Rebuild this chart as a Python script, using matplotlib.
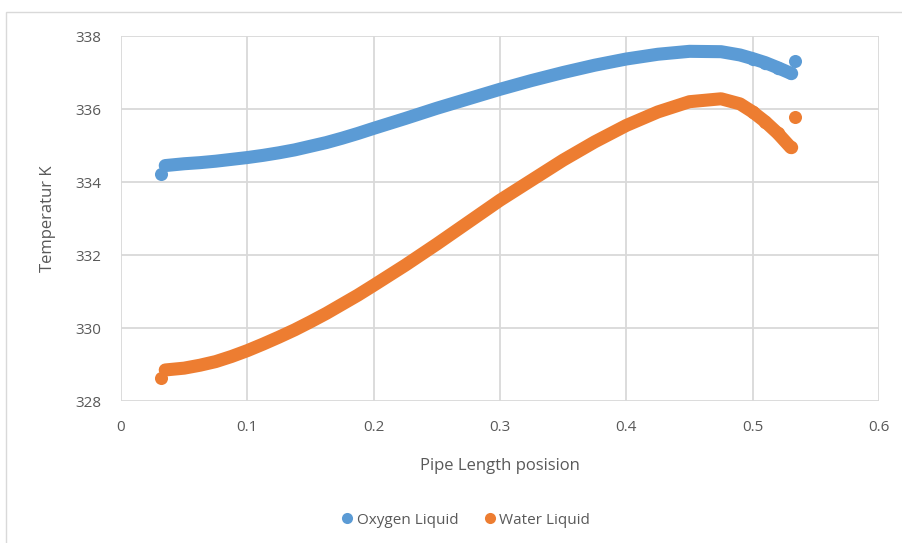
import matplotlib
matplotlib.use("Agg")
import matplotlib.pyplot as plt
from matplotlib.lines import Line2D
from matplotlib.patches import Rectangle

plt.rcParams['font.family'] = ['Open Sans', 'DejaVu Sans']

# Pipe length positions
x_curve = [0.035, 0.05, 0.0625, 0.075, 0.0875, 0.1, 0.1125, 0.125, 0.1375, 0.15, 0.1625,
           0.175, 0.1875, 0.2, 0.225, 0.25, 0.275, 0.3, 0.325, 0.35, 0.375, 0.4, 0.425,
           0.45, 0.475, 0.49, 0.5, 0.51, 0.52, 0.53]
oxygen_curve = [334.45, 334.50, 334.53, 334.57, 334.62, 334.67, 334.73, 334.80, 334.88,
                334.98, 335.08, 335.20, 335.33, 335.47, 335.74, 336.02, 336.28, 336.54,
                336.78, 337.00, 337.20, 337.37, 337.50, 337.58, 337.57, 337.48, 337.38,
                337.27, 337.13, 336.98]
water_curve = [328.85, 328.90, 328.98, 329.08, 329.22, 329.38, 329.56, 329.75, 329.95,
               330.17, 330.40, 330.65, 330.90, 331.17, 331.72, 332.30, 332.90, 333.50,
               334.05, 334.60, 335.10, 335.55, 335.92, 336.20, 336.28, 336.14, 335.92,
               335.65, 335.33, 334.95]
# isolated points at the ends
x_extra = [0.0315, 0.5335]
oxygen_extra = [334.22, 337.32]
water_extra = [328.62, 335.77]

blue = '#5b9bd5'
orange = '#ed7d31'
grid_c = '#d9d9d9'
text_c = '#595959'

fig = plt.figure(figsize=(9.03, 5.43), dpi=100)
ax = fig.add_axes([121/903, 1-401/543, (879-121)/903, (401-36)/543])

# outer chart border
fig.patches.append(Rectangle((6/903, -0.1), 1.2, 1-12/543+0.1, transform=fig.transFigure,
                             fill=False, edgecolor='#d9d9d9', linewidth=1.0))

for xs, ys, xe, ye, c in [(x_curve, oxygen_curve, x_extra, oxygen_extra, blue),
                          (x_curve, water_curve, x_extra, water_extra, orange)]:
    ax.plot(xs, ys, color=c, linewidth=9.4, solid_capstyle='round',
            solid_joinstyle='round', zorder=3)
    ax.plot(xs[-4:], ys[-4:], 'o', color=c, markersize=9.6, markeredgewidth=0, zorder=3)
    ax.plot(xe, ye, 'o', color=c, markersize=9.4, markeredgewidth=0, zorder=4)

ax.set_xlim(0, 0.6)
ax.set_ylim(328, 338)
ax.set_xticks([0, 0.1, 0.2, 0.3, 0.4, 0.5, 0.6])
ax.set_xticklabels(['0', '0.1', '0.2', '0.3', '0.4', '0.5', '0.6'])
ax.set_yticks([328, 330, 332, 334, 336, 338])
ax.grid(True, color=grid_c, linewidth=1.3, zorder=0)
ax.set_axisbelow(True)
for s in ax.spines.values():
    s.set_visible(False)
ax.tick_params(length=0, labelsize=11, colors=text_c)
ax.tick_params(axis='x', pad=14)
ax.tick_params(axis='y', pad=14)

ax.set_xlabel('Pipe Length posision', fontsize=12, color=text_c, labelpad=16)
ax.set_ylabel('Temperatur K', fontsize=12, color=text_c, labelpad=14)

handles = [Line2D([], [], marker='o', linestyle='none', color=blue, markersize=8,
                  markeredgewidth=0, label='Oxygen Liquid'),
           Line2D([], [], marker='o', linestyle='none', color=orange, markersize=8,
                  markeredgewidth=0, label='Water Liquid')]
leg = fig.legend(handles=handles, loc='center', bbox_to_anchor=(0.515, 1-520/543), ncol=2,
                 frameon=False, fontsize=11, handletextpad=0.1, columnspacing=1.6,
                 handlelength=1.0)
for t in leg.get_texts():
    t.set_color(text_c)

fig.savefig('out.png', dpi=100)
